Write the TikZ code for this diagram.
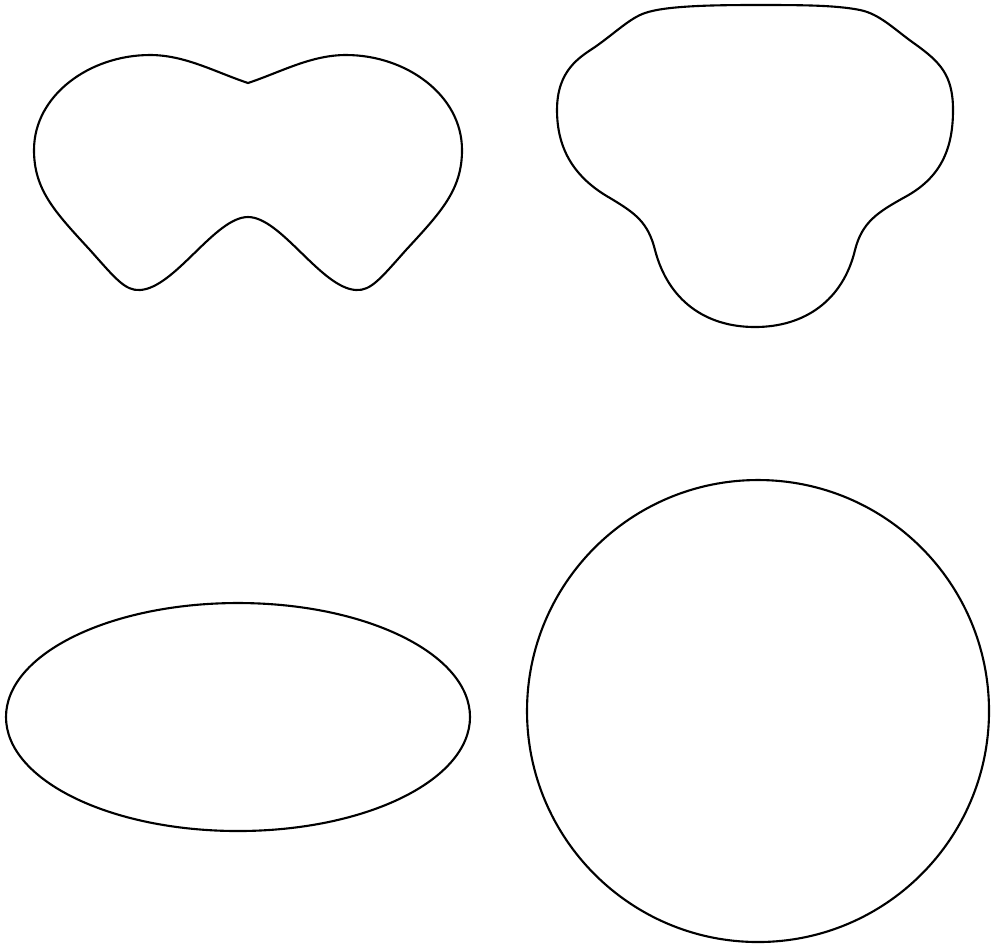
\documentclass[tikz,border=0pt]{standalone}
\begin{document}
\begin{tikzpicture}[x=0.1mm,y=-0.1mm,outline/.style={draw=black,line width=0.6pt,line join=round}]
\useasboundingbox (0,0) rectangle (993,948);
% top-left butterfly shape
\draw[outline] (248,83) .. controls (215,72) and (185,55) .. (150,55)
 .. controls (90,55) and (34,95) .. (34,150)
 .. controls (34,190) and (55,212) .. (90,250)
 .. controls (115,278) and (125,291) .. (140,290)
 .. controls (175,288) and (215,217) .. (248,217)
 .. controls (281,217) and (321,288) .. (356,290)
 .. controls (371,291) and (381,278) .. (406,250)
 .. controls (441,212) and (462,190) .. (462,150)
 .. controls (462,95) and (406,55) .. (346,55)
 .. controls (311,55) and (281,72) .. (248,83) -- cycle;
% top-right trefoil shape
\draw[outline] (755,5) .. controls (710,5) and (665,6) .. (645,13)
 .. controls (630,18) and (615,33) .. (595,47)
 .. controls (580,57) and (557,70) .. (557,110)
 .. controls (557,150) and (575,178) .. (610,198)
 .. controls (635,213) and (648,222) .. (655,250)
 .. controls (668,300) and (705,327) .. (755,327)
 .. controls (805,327) and (843,300) .. (855,250)
 .. controls (862,222) and (878,212) .. (905,197)
 .. controls (940,178) and (953,150) .. (953,110)
 .. controls (953,75) and (940,62) .. (915,44)
 .. controls (895,30) and (880,14) .. (860,10)
 .. controls (835,5) and (800,5) .. (755,5) -- cycle;
% ellipse
\draw[outline] (238,717) ellipse [x radius=232, y radius=114];
% circle
\draw[outline] (758,711) circle [radius=231];
\end{tikzpicture}
\end{document}
